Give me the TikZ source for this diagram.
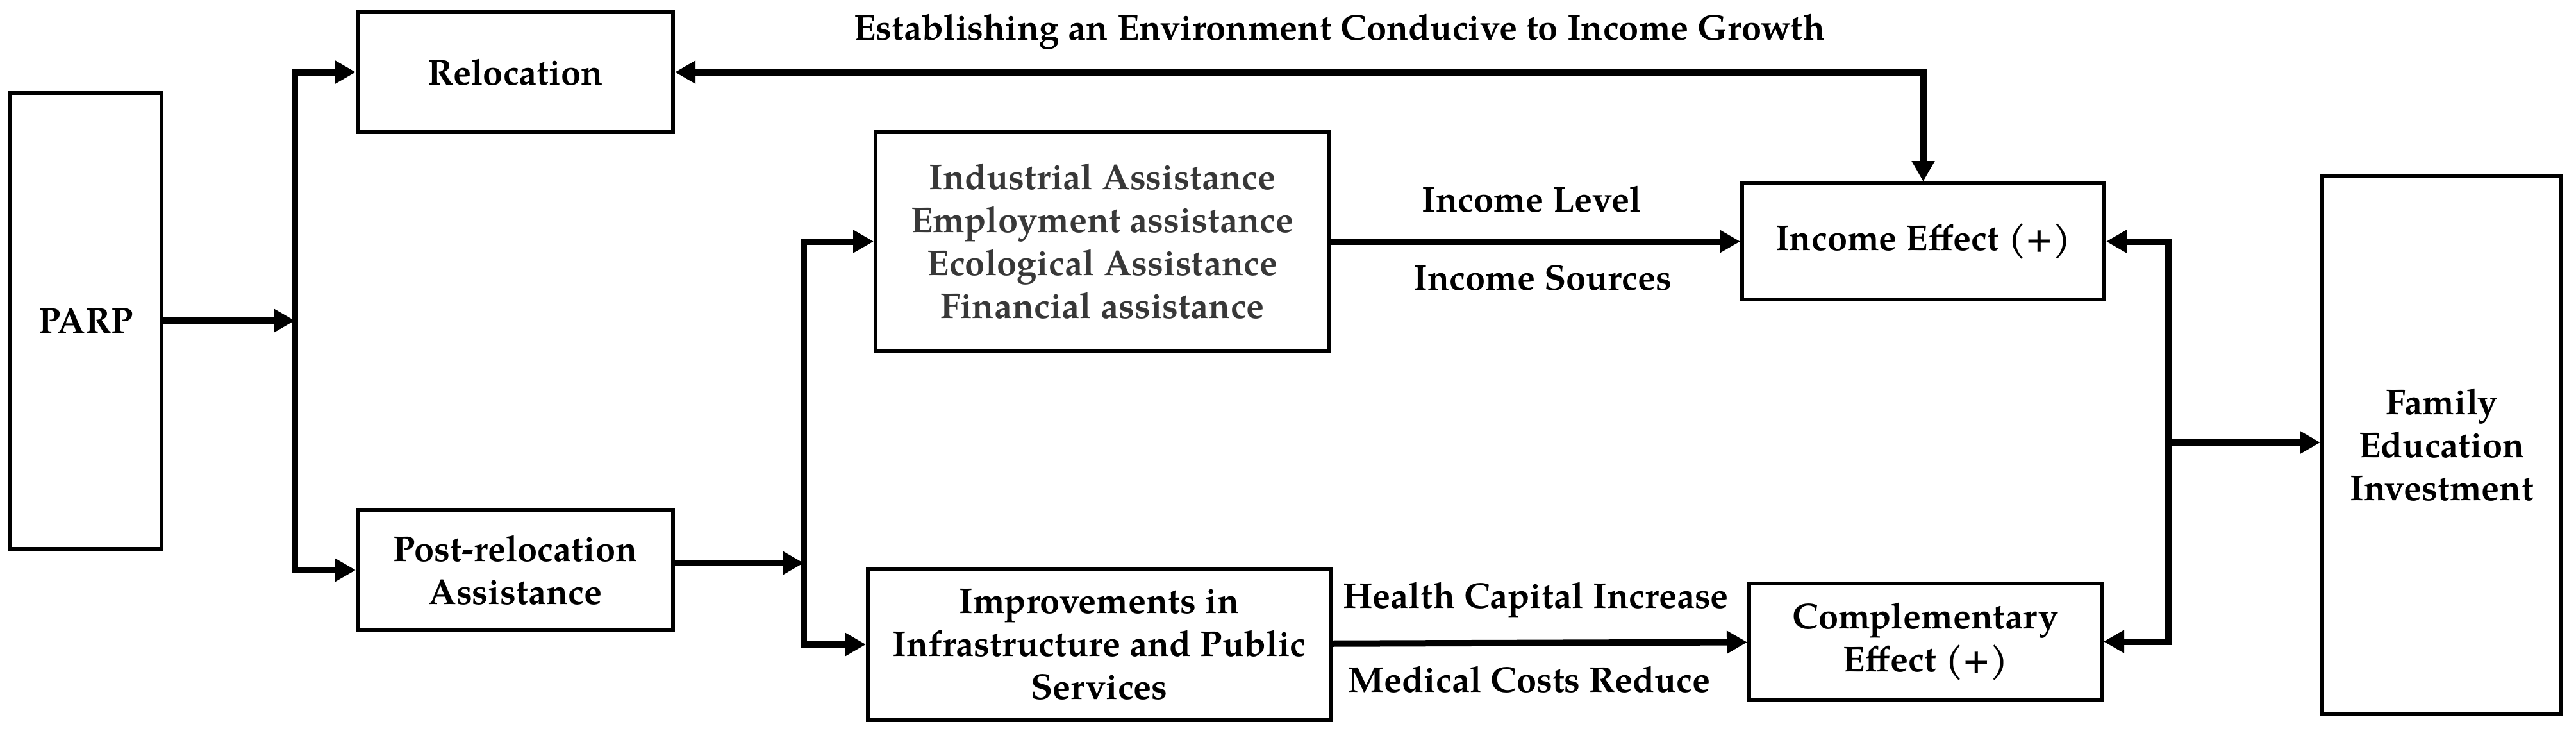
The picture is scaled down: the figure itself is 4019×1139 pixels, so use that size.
\documentclass[tikz,border=0pt]{standalone}
\usepackage{fontspec}
\setmainfont{TeX Gyre Pagella}
\usetikzlibrary{arrows.meta}
\begin{document}
\begin{tikzpicture}[x=0.25pt,y=-0.25pt,
  txt/.style={font=\bfseries\fontsize{14}{16.75}\selectfont},
  box/.style={txt, draw, line width=1.5pt, inner sep=0pt, align=center},
  lbl/.style={txt, inner sep=0pt, align=center},
  tip/.tip={Triangle[length=8pt,width=8.5pt]},
  conn/.style={line width=2.5pt, -tip}]
\useasboundingbox (0,0) rectangle (4019,1139);

% boxes
\node[box, minimum width=59pt, minimum height=177.75pt] (parp) at (134,500) {PARP};
\node[box, minimum width=123pt, minimum height=46.75pt] (reloc) at (804,112.5) {Relocation};
\node[box, minimum width=123pt, minimum height=46.5pt] (post) at (804,889) {Post-relocation\\Assistance};
\node[box, minimum width=177pt, minimum height=85.25pt, text=black!78] (ind) at (1720,376.5)
  {Industrial Assistance\\Employment assistance\\Ecological Assistance\\Financial assistance};
\node[box, minimum width=180.5pt, minimum height=59pt] (imp) at (1715,1005)
  {Improvements in\\Infrastructure and Public\\Services};
\node[box, minimum width=141.25pt, minimum height=45.25pt] (inc) at (3000.5,376.5) {Income Effect (+)};
\node[box, minimum width=137.5pt, minimum height=45.25pt] (comp) at (3004,1000.5) {Complementary\\Effect (+)};
\node[box, minimum width=93.25pt, minimum height=209.5pt] (fam) at (3809.5,694) {Family\\Education\\Investment};

% labels
\node[lbl] (ttl) at (2090,50) {Establishing an Environment Conducive to Income Growth};
\node[lbl] (l1) at (2390,311) {Income Level};
\node[lbl] (l2) at (2407,433) {Income Sources};
\node[lbl] (l3) at (2396,936) {Health Capital Increase};
\node[lbl] (l4) at (2386,1060) {Medical Costs Reduce};

% junctions
\coordinate (j1) at (460,500);
\coordinate (j2) at (1254,878);
\coordinate (j3) at (3383,690);

% connectors
\draw[conn] (parp) -- (j1);
\draw[conn] (j1) |- (reloc);
\draw[conn] (j1) |- (post);
\draw[conn] (post.east |- j2) -- (j2);
\draw[conn] (j2) |- (ind);
\draw[conn] (j2) |- (imp);
\draw[conn] (ind) -- (inc);
\draw[conn] (imp) -- (comp);
\draw[line width=2.5pt, tip-tip] (reloc.east) -| (inc.north);
\draw[conn] (j3) |- (inc);
\draw[conn] (j3) |- (comp);
\draw[conn] (j3) -- (j3 -| fam.west);
\end{tikzpicture}
\end{document}
